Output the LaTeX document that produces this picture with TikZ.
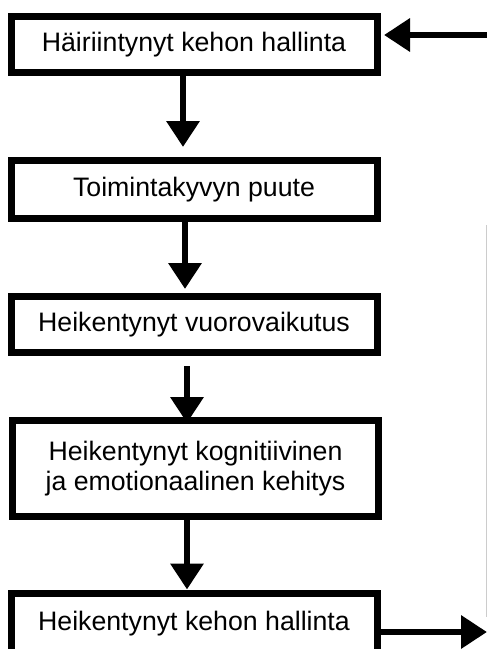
\documentclass[tikz,border=0pt]{standalone}
\usepackage{fontspec}
\setmainfont{Liberation Sans}
\usetikzlibrary{arrows.meta}

\begin{document}
\begin{tikzpicture}[x=1pt,y=-1pt,
        hbox/.style={draw,line width=7pt,inner sep=0pt,minimum width=366pt,
            minimum height=56pt,align=center,font=\fontsize{26.7}{30}\selectfont},
        flow/.style={line width=6.5pt,-{Triangle[length=26pt,width=32pt]}}]
        \useasboundingbox (0,0) rectangle (487,649);
        % Boxes
        \node[hbox] (b1) at (194,44.5) {Häiriintynyt kehon hallinta};
        \node[hbox,minimum height=58pt] (b2) at (194,189.5) {Toimintakyvyn puute};
        \node[hbox] (b3) at (194,324.5) {Heikentynyt vuorovaikutus};
        \node[hbox,minimum height=96pt] (b4) at (195.5,468.5) {Heikentynyt kognitiivinen\\ja emotionaalinen kehitys};
        \node[hbox,minimum height=62pt] (b5) at (194,624) {Heikentynyt kehon hallinta};
        % Downward arrows
        \draw[flow,shorten >=10pt] ([xshift=-11pt]b1.south) -- ([xshift=-11pt]b2.north);
        \draw[flow,shorten >=4pt] ([xshift=-9pt]b2.south) -- ([xshift=-9pt]b3.north);
        \draw[flow,shorten <=10pt,shorten >=-6pt] ([xshift=-7pt]b3.south) -- ([xshift=-8.5pt]b4.north);
        \draw[flow] ([xshift=-8.5pt]b4.south) -- ([xshift=-7pt]b5.north);
        % Loop back on the right
        \coordinate (out) at (487,632);
        \coordinate (back) at (487,35);
        \coordinate (loopTop) at (486,225);
        \coordinate (loopBot) at (486,617);
        \draw[flow] ([yshift=-8pt]b5.east) -- (out);
        \draw[flow,shorten >=3.5pt] (back) -- ([yshift=9.5pt]b1.east);
        \draw[gray!40,line width=0.8pt] (loopTop) -- (loopBot);
    \end{tikzpicture}
\end{document}
